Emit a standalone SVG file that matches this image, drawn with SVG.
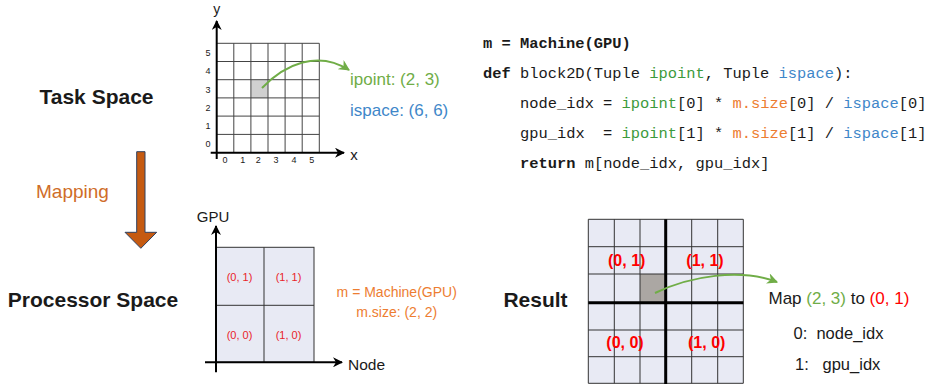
<svg xmlns="http://www.w3.org/2000/svg" width="926" height="384" viewBox="0 0 926 384">
<style>
text{font-family:"Liberation Sans",Arial,sans-serif;fill:#1a1a1a}
.title{font-size:21px;font-weight:bold}
.num{font-size:9px;text-anchor:middle}
.lbl{font-size:17px}
.code{font-family:"Liberation Mono","Courier New",monospace;font-size:15.4px;white-space:pre}
.g{fill:#70ad47}
.cg{fill:#3c9a3c}
.b{fill:#3f87c9}
.o{fill:#ed7d31}
.bold{font-weight:bold}
.grid{stroke:#444;stroke-width:1;fill:none}
.axis{stroke:#000;stroke-width:2;fill:none}
.curve{stroke:#70ad47;stroke-width:2;fill:none}
.cellp{font-size:11px;fill:#e8242a;text-anchor:middle}
.cellr{font-size:16px;font-weight:bold;fill:#ff0000;text-anchor:middle}
</style>
<defs>
<marker id="ax" viewBox="0 0 10 10" refX="9" refY="5" markerWidth="10" markerHeight="10" markerUnits="userSpaceOnUse" orient="auto">
<path d="M0,0 L10,5 L0,10 L3,5 z" fill="#000"/>
</marker>
<marker id="gr" viewBox="0 0 10 10" refX="9" refY="5" markerWidth="11" markerHeight="11" markerUnits="userSpaceOnUse" orient="auto">
<path d="M0,0 L10,5 L0,10 L3,5 z" fill="#70ad47"/>
</marker>
</defs>
<rect width="926" height="384" fill="#fff"/>

<g id="task-space">
<text class="title" x="96.5" y="104" text-anchor="middle">Task Space</text>
<rect x="251" y="80" width="17.1" height="18.2" fill="#d0d0d0"/>
<path class="grid" d="M216.7,43.3H319.3M216.7,61.5H319.3M216.7,79.7H319.3M216.7,97.9H319.3M216.7,116.1H319.3M216.7,134.4H319.3M233.8,43.3V152.7M250.9,43.3V152.7M268,43.3V152.7M285.1,43.3V152.7M302.2,43.3V152.7M319.3,43.3V152.7"/>
<line class="axis" x1="216.7" y1="159" x2="216.7" y2="21" marker-end="url(#ax)"/>
<line class="axis" x1="210.7" y1="152.7" x2="344" y2="152.7" marker-end="url(#ax)"/>
<text x="216.7" y="13.5" font-size="14" text-anchor="middle">y</text>
<text x="354" y="160" font-size="15" text-anchor="middle">x</text>
<text class="num" x="208" y="56">5</text>
<text class="num" x="208" y="74">4</text>
<text class="num" x="208" y="92.5">3</text>
<text class="num" x="208" y="110.5">2</text>
<text class="num" x="208" y="129">1</text>
<text class="num" x="208" y="146.5">0</text>
<text class="num" x="225" y="163">0</text>
<text class="num" x="242.7" y="163">1</text>
<text class="num" x="258.3" y="163">2</text>
<text class="num" x="276" y="163">3</text>
<text class="num" x="294" y="163">4</text>
<text class="num" x="311.7" y="163">5</text>
<text class="lbl g" x="350" y="85">ipoint: (2, 3)</text>
<text class="lbl b" x="350" y="116">ispace: (6, 6)</text>
</g>

<g id="code">
<text class="code" x="483" y="48"><tspan class="bold">m = Machine(GPU)</tspan></text>
<text class="code" x="483" y="78"><tspan class="bold">def</tspan> block2D(Tuple <tspan class="cg">ipoint</tspan>, Tuple <tspan class="b">ispace</tspan>):</text>
<text class="code" x="520" y="108">node_idx = <tspan class="cg">ipoint</tspan>[0] * <tspan class="o">m.size</tspan>[0] / <tspan class="b">ispace</tspan>[0]</text>
<text class="code" x="520" y="138">gpu_idx  = <tspan class="cg">ipoint</tspan>[1] * <tspan class="o">m.size</tspan>[1] / <tspan class="b">ispace</tspan>[1]</text>
<text class="code" x="520" y="168"><tspan class="bold">return</tspan> m[node_idx, gpu_idx]</text>
</g>

<g id="mapping-label">
<text x="72.5" y="198" font-size="19" text-anchor="middle" style="fill:#cf6d28">Mapping</text>
</g>

<g id="processor-space">
<text class="title" x="93" y="307" text-anchor="middle">Processor Space</text>
<rect x="216" y="247.3" width="98" height="115" fill="#e8eaf4" stroke="#333" stroke-width="1"/>
<path d="M264,247.3V362.3M216,305.3H314" stroke="#333" stroke-width="1" fill="none"/>
<line class="axis" x1="216" y1="372.3" x2="216" y2="226" marker-end="url(#ax)"/>
<line class="axis" x1="205" y1="362.3" x2="342" y2="362.3" marker-end="url(#ax)"/>
<text x="213" y="221.5" font-size="15" text-anchor="middle">GPU</text>
<text x="348" y="370" font-size="15.5">Node</text>
<text class="cellp" x="239.5" y="281">(0, 1)</text>
<text class="cellp" x="288.5" y="281">(1, 1)</text>
<text class="cellp" x="239.5" y="339">(0, 0)</text>
<text class="cellp" x="288.5" y="339">(1, 0)</text>
<text class="o" x="396.7" y="297" font-size="14" text-anchor="middle">m = Machine(GPU)</text>
<text class="o" x="396.7" y="317" font-size="14" text-anchor="middle">m.size: (2, 2)</text>
</g>

<g id="result">
<text class="title" x="535.5" y="307" text-anchor="middle">Result</text>
<rect x="588.3" y="219.3" width="155" height="164" fill="#e8eaf4"/>
<rect x="640" y="274" width="25.7" height="28.7" fill="#aba7a3"/>
<path d="M588.3,219.3H743.3M588.3,246.7H743.3M588.3,274H743.3M588.3,330H743.3M588.3,356.7H743.3M588.3,383.3H743.3M588.3,219.3V383.3M614.3,219.3V383.3M640,219.3V383.3M691.7,219.3V383.3M717.7,219.3V383.3M743.3,219.3V383.3" stroke="#333" stroke-width="1" fill="none"/>
<path d="M665.7,219.3V384M588.3,302.7H743.3" stroke="#000" stroke-width="3" fill="none"/>
<text class="cellr" x="626.7" y="266">(0, 1)</text>
<text class="cellr" x="705" y="266">(1, 1)</text>
<text class="cellr" x="625" y="347.5">(0, 0)</text>
<text class="cellr" x="706.7" y="347.5">(1, 0)</text>
<text x="768.5" y="303.5" font-size="17">Map <tspan class="g">(2, 3)</tspan> to <tspan style="fill:#ff0000">(0, 1)</tspan></text>
<text x="793.5" y="338.5" font-size="16.5" style="white-space:pre">0:  node_idx</text>
<text x="795" y="370" font-size="16.5" style="white-space:pre">1:   gpu_idx</text>
</g>

<g id="connectors">
<polygon points="136.7,151.7 145,151.7 145,232.3 156.7,232.3 140.85,248.3 125,232.3 136.7,232.3" fill="#c55a11" stroke="#2f4060" stroke-width="1"/>
<path class="curve" d="M262,88 C285,64 318,50 349,70" marker-end="url(#gr)"/>
<path class="curve" d="M655,293 C690,276 740,268 777,282" marker-end="url(#gr)"/>
</g>
</svg>
